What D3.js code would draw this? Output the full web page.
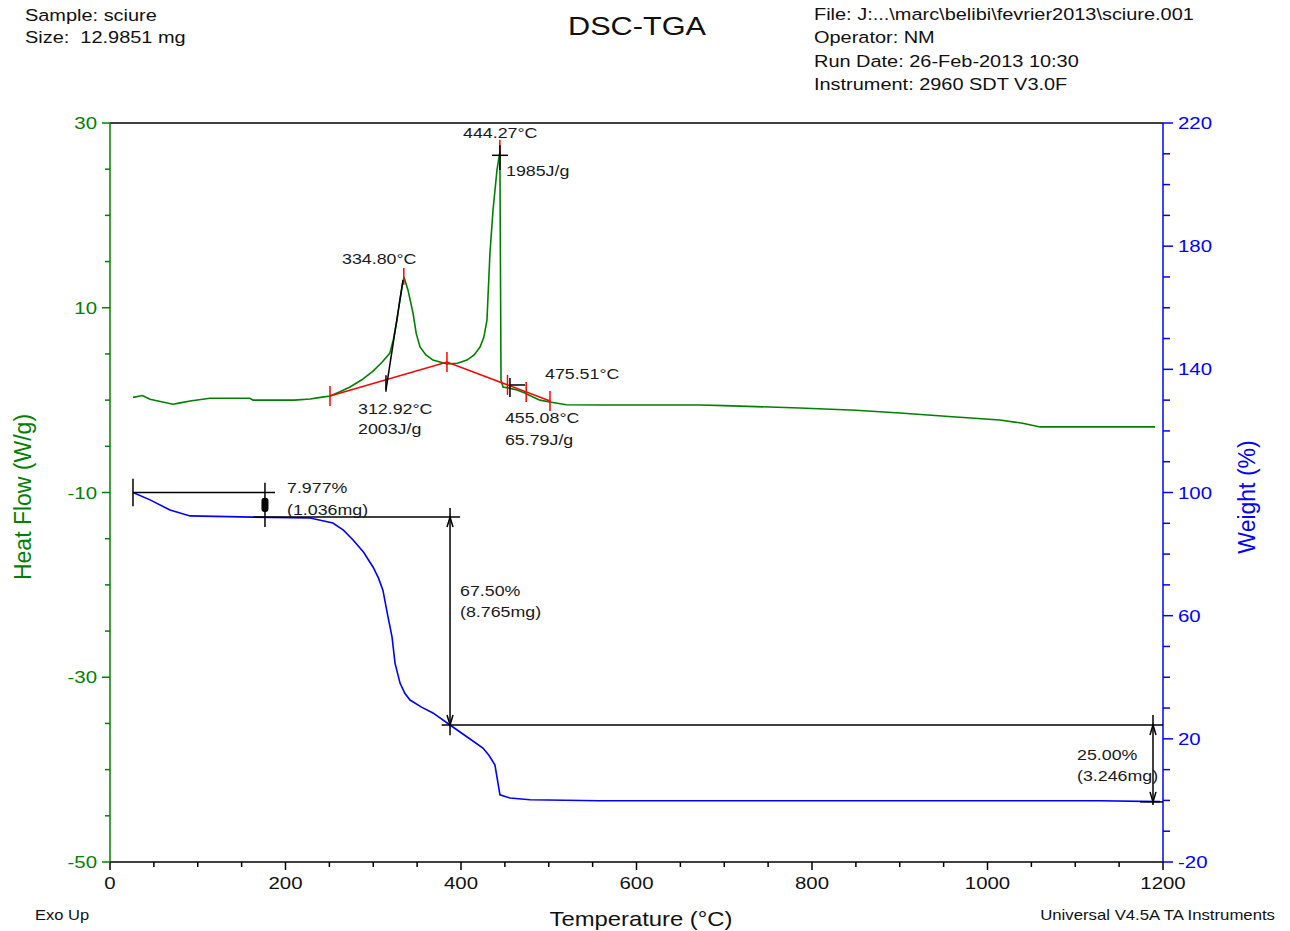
<!DOCTYPE html>
<html>
<head>
<meta charset="utf-8">
<script src="https://cdn.jsdelivr.net/npm/d3@7"></script>
<style>
  html, body { margin: 0; padding: 0; background: #fff; }
  svg { display: block; }
  text { font-family: "Liberation Sans", Arial, sans-serif; white-space: pre; }
</style>
</head>
<body>
<script>
// ---------------- DATA ----------------
// DSC heat flow curve: [temperature °C, heat flow W/g]
const dscTemp = [26.2, 37, 45.6, 71.8, 80, 91.2, 114, 159.5, 163, 193.7, 210, 228, 240, 250.7, 262, 273.5, 287, 299.7, 310, 319, 323, 327, 330, 332.8, 335, 339.6, 345.3, 349, 353.3, 360, 368, 384, 396, 406.8, 415, 421.7, 426, 429.6, 433, 436.5, 441, 443.3, 444.3, 445.6, 447.9, 455, 463.8, 472, 482, 490, 501.4, 520, 558.4, 672, 700, 786, 850, 900, 960, 1014, 1040, 1060, 1120, 1191];
const dscFlow = [0.3, 0.5, 0.1, -0.45, -0.3, -0.1, 0.2, 0.2, 0.0, 0.0, 0.0, 0.12, 0.3, 0.45, 0.9, 1.42, 2.2, 3.15, 4.1, 5.1, 6.6, 8.67, 10.6, 12.25, 13.33, 11.9, 9.43, 7.2, 5.75, 4.9, 4.34, 3.91, 4.0, 4.34, 4.9, 5.75, 6.8, 8.67, 15.93, 20.58, 24.9, 26.3, 26.86, 2.18, 1.42, 1.3, 1.1, 0.8, 0.34, 0.0, -0.2, -0.5, -0.53, -0.53, -0.6, -0.85, -1.1, -1.4, -1.8, -2.15, -2.5, -2.9, -2.9, -2.9];

// TGA weight curve: [temperature °C, weight %]
const tgaTemp = [26.2, 45.6, 68.4, 91.2, 163, 228, 254, 266, 277, 289, 299.7, 306, 311, 316.8, 321.4, 324.8, 330.5, 336, 341.9, 355, 368, 387.5, 405, 425, 432, 438.7, 444.4, 455.8, 478.6, 558, 800, 1128, 1196.6];
const tgaWeight = [100, 97.6, 94.3, 92.4, 92.0, 91.7, 90.1, 87.8, 84.6, 80.6, 75.8, 72.2, 68.3, 59.6, 53.1, 44.6, 38.1, 34.8, 32.6, 30.3, 28.4, 24.5, 21.0, 17.0, 14.6, 11.5, 1.8, 0.8, 0.2, -0.1, -0.1, -0.1, -0.4];

// Axis ticks
const xTicksMajor = [0, 200, 400, 600, 800, 1000, 1200];
const hfTicksMajor = [30, 10, -10, -30, -50];
const wtTicksMajor = [220, 180, 140, 100, 60, 20, -20];

// Header texts
const headerLeft = ["Sample: sciure", "Size:  12.9851 mg"];
const headerRight = ["File: J:...\\marc\\belibi\\fevrier2013\\sciure.001", "Operator: NM", "Run Date: 26-Feb-2013 10:30", "Instrument: 2960 SDT V3.0F"];

// DSC annotations (temperature, heat flow)
const dscBaseline = [[250.7, 0.45], [384, 4.13], [501.4, -0.09]];
const dscRedTicks = [250.7, 384, 453, 474.3, 501.4];
const dscPeakTicks = [[444.27, 28.2, 26.2], [334.8, 14.3, 12.5]];
const dscTangent = [[314.5, 1.1], [333.9, 13.0]];
const dscLabels = [
  ["444.27°C", 402.3, 28.38], ["1985J/g", 451.3, 24.26], ["334.80°C", 264.4, 14.74],
  ["475.51°C", 495.7, 2.29], ["312.92°C", 282.6, -1.5], ["2003J/g", 282.6, -3.67],
  ["455.08°C", 450.1, -2.48], ["65.79J/g", 450.1, -4.86]
];

// TGA step annotations
const wtLevels = [100, 92.02, 24.52, -0.48];
const wtSteps = [
  {xv: 176.6, vTop: 103.2, vBot: 88.8},
  {xv: 387.5, vTop: 95.0, vBot: 21.2},
  {xv: 1188.6, vTop: 27.7, vBot: -1.5}
];
const wtLabels = [
  ["7.977%", 201.7, 99.84], ["(1.036mg)", 201.7, 92.7],
  ["67.50%", 398.9, 66.4], ["(8.765mg)", 398.9, 59.6],
  ["25.00%", 1102, 13.1], ["(3.246mg)", 1102, 6.3]
];

// ---------------- DRAW ----------------
const W = 1290, H = 931;
const GREEN = "#008000", BLUE = "#0000ff", RED = "#ff0000", TXT = "#1a1a1a";
const SX = 1.18; // horizontal stretch of text in the original

const svg = d3.select("body").append("svg").attr("width", W).attr("height", H);

const x = d3.scaleLinear().domain([0, 1200]).range([110, 1163]);
const yL = d3.scaleLinear().domain([-50, 30]).range([862, 123]);
const yR = d3.scaleLinear().domain([-20, 220]).range([862, 123]);

function txt(s, px, py, size, opts = {}) {
  const g = svg.append("g").attr("transform", `translate(${px},${py}) scale(${opts.sx || SX},1)` + (opts.rot ? ` rotate(${opts.rot})` : ""));
  return g.append("text").text(s).attr("font-size", size).attr("fill", opts.fill || TXT)
    .attr("text-anchor", opts.anchor || "start");
}

// Header
headerLeft.forEach((s, i) => txt(s, 25, 21 + i * 22, 16.9, {fill: "#111"}));
headerRight.forEach((s, i) => txt(s, 814, 20 + i * 23.3, 16.9, {fill: "#111"}));
txt("DSC-TGA", 637, 35, 26, {anchor: "middle", fill: "#111"});

// Frame: top line
svg.append("line").attr("x1", x(0)).attr("x2", x(1200)).attr("y1", yL(30)).attr("y2", yL(30))
  .attr("stroke", "#000").attr("stroke-width", 1.5);

// Bottom axis
const xMinor = d3.range(0, 1201, 50);
svg.append("line").attr("x1", x(0)).attr("x2", x(1200)).attr("y1", 862).attr("y2", 862).attr("stroke", "#000").attr("stroke-width", 1.5);
svg.selectAll(".xt").data(xMinor).enter().append("line")
  .attr("x1", d => x(d)).attr("x2", d => x(d)).attr("y1", 862)
  .attr("y2", d => 862 + (xTicksMajor.includes(d) ? 8 : 5)).attr("stroke", "#000").attr("stroke-width", 1.5);
xTicksMajor.forEach(d => txt(String(d), x(d), 889, 17.3, {anchor: "middle", fill: "#111"}));

// Left axis (green)
svg.append("line").attr("x1", 110).attr("x2", 110).attr("y1", yL(30)).attr("y2", yL(-50)).attr("stroke", GREEN).attr("stroke-width", 1.5);
d3.range(-50, 31, 5).forEach(d => {
  const maj = hfTicksMajor.includes(d);
  svg.append("line").attr("x1", 110).attr("x2", 110 - (maj ? 8 : 5)).attr("y1", yL(d)).attr("y2", yL(d)).attr("stroke", GREEN).attr("stroke-width", 1.5);
});
hfTicksMajor.forEach(d => txt(String(d), 97, yL(d) + 6, 17.3, {anchor: "end", fill: GREEN}));

// Right axis (blue)
svg.append("line").attr("x1", 1163).attr("x2", 1163).attr("y1", yR(220)).attr("y2", yR(-20)).attr("stroke", BLUE).attr("stroke-width", 1.5);
d3.range(-20, 221, 10).forEach(d => {
  const maj = wtTicksMajor.includes(d);
  svg.append("line").attr("x1", 1163).attr("x2", 1163 + (maj ? 10 : 7)).attr("y1", yR(d)).attr("y2", yR(d)).attr("stroke", BLUE).attr("stroke-width", 1.5);
});
wtTicksMajor.forEach(d => txt(String(d), 1178, yR(d) + 6, 17.3, {fill: BLUE}));

// Axis titles
txt("Temperature (°C)", 641, 926, 20.2, {anchor: "middle", fill: "#111"});
txt("Heat Flow (W/g)", 31, 497, 23, {anchor: "middle", fill: GREEN, rot: -90, sx: 1.05});
txt("Weight (%)", 1255, 497, 23, {anchor: "middle", fill: BLUE, rot: -90, sx: 1.05});
txt("Exo Up", 35, 920, 14, {fill: "#111"});
txt("Universal V4.5A TA Instruments", 1275, 920, 14.2, {anchor: "end", fill: "#111"});

// Curves
const dscData = dscTemp.map((t, i) => [t, dscFlow[i]]);
const tgaData = tgaTemp.map((t, i) => [t, tgaWeight[i]]);
svg.append("path").datum(dscData)
  .attr("d", d3.line().x(d => x(d[0])).y(d => yL(d[1])))
  .attr("fill", "none").attr("stroke", GREEN).attr("stroke-width", 1.6);
svg.append("path").datum(tgaData)
  .attr("d", d3.line().x(d => x(d[0])).y(d => yR(d[1])))
  .attr("fill", "none").attr("stroke", BLUE).attr("stroke-width", 1.6);

// DSC annotations
function seg(x1, y1, x2, y2, color, w = 1.5) {
  svg.append("line").attr("x1", x1).attr("y1", y1).attr("x2", x2).attr("y2", y2).attr("stroke", color).attr("stroke-width", w);
}
svg.append("path").datum(dscBaseline)
  .attr("d", d3.line().x(d => x(d[0])).y(d => yL(d[1])))
  .attr("fill", "none").attr("stroke", RED).attr("stroke-width", 1.5);
const baseInterp = t => {
  const [a, b, c] = dscBaseline;
  return t <= b[0] ? a[1] + (b[1] - a[1]) * (t - a[0]) / (b[0] - a[0]) : b[1] + (c[1] - b[1]) * (t - b[0]) / (c[0] - b[0]);
};
dscRedTicks.forEach(t => seg(x(t), yL(baseInterp(t)) - 10, x(t), yL(baseInterp(t)) + 10, RED));
dscPeakTicks.forEach(p => seg(x(p[0]), yL(p[1]), x(p[0]), yL(p[2]), RED));
seg(x(dscTangent[0][0]), yL(dscTangent[0][1]), x(dscTangent[1][0]), yL(dscTangent[1][1]), "#000");
seg(x(314.5), yL(2.7), x(314.5), yL(0.9), "#000");
// cross at 444 peak
seg(x(435.3), yL(26.5), x(453.6), yL(26.5), "#000");
seg(x(444.4), yL(27.6), x(444.4), yL(24.9), "#000");
// cross at 455
seg(x(455.8), yL(2.4), x(455.8), yL(0.34), "#000");
seg(x(455.8), yL(1.64), x(473), yL(1.64), "#000");
dscLabels.forEach(l => txt(l[0], x(l[1]), yL(l[2]), 15.1));

// TGA step annotations
seg(x(26.2), yR(wtLevels[0]), x(188), yR(wtLevels[0]), "#000");
seg(x(26.2), yR(104.5), x(26.2), yR(95.5), "#000");
seg(x(163), yR(wtLevels[1]), x(399), yR(wtLevels[1]), "#000");
seg(x(378), yR(wtLevels[2]), x(1200), yR(wtLevels[2]), "#000");
seg(x(1174), yR(wtLevels[3]), x(1200), yR(wtLevels[3]), "#000");

function arrowHead(px, py, dir) {
  const h = 10 * dir;
  svg.append("path").attr("d", `M${px - 3},${py + h} L${px},${py} L${px + 3},${py + h}`)
    .attr("fill", "none").attr("stroke", "#000").attr("stroke-width", 1.5);
}
seg(x(wtSteps[0].xv), yR(wtSteps[0].vTop), x(wtSteps[0].xv), yR(wtSteps[0].vBot), "#000");
svg.append("rect").attr("x", x(wtSteps[0].xv) - 3.5).attr("y", yR(98.3)).attr("width", 7)
  .attr("height", yR(93.7) - yR(98.3)).attr("rx", 3).attr("fill", "#000");
seg(x(wtSteps[1].xv), yR(wtSteps[1].vTop), x(wtSteps[1].xv), yR(wtSteps[1].vBot), "#000");
arrowHead(x(wtSteps[1].xv), yR(wtLevels[1]), 1);
arrowHead(x(wtSteps[1].xv), yR(wtLevels[2]), -1);
seg(x(wtSteps[2].xv), yR(wtSteps[2].vTop), x(wtSteps[2].xv), yR(wtSteps[2].vBot), "#000");
arrowHead(x(wtSteps[2].xv), yR(wtLevels[2]), 1);
arrowHead(x(wtSteps[2].xv), yR(wtLevels[3]), -1);

wtLabels.forEach(l => txt(l[0], x(l[1]), yR(l[2]), 15.1));
</script>
</body>
</html>
